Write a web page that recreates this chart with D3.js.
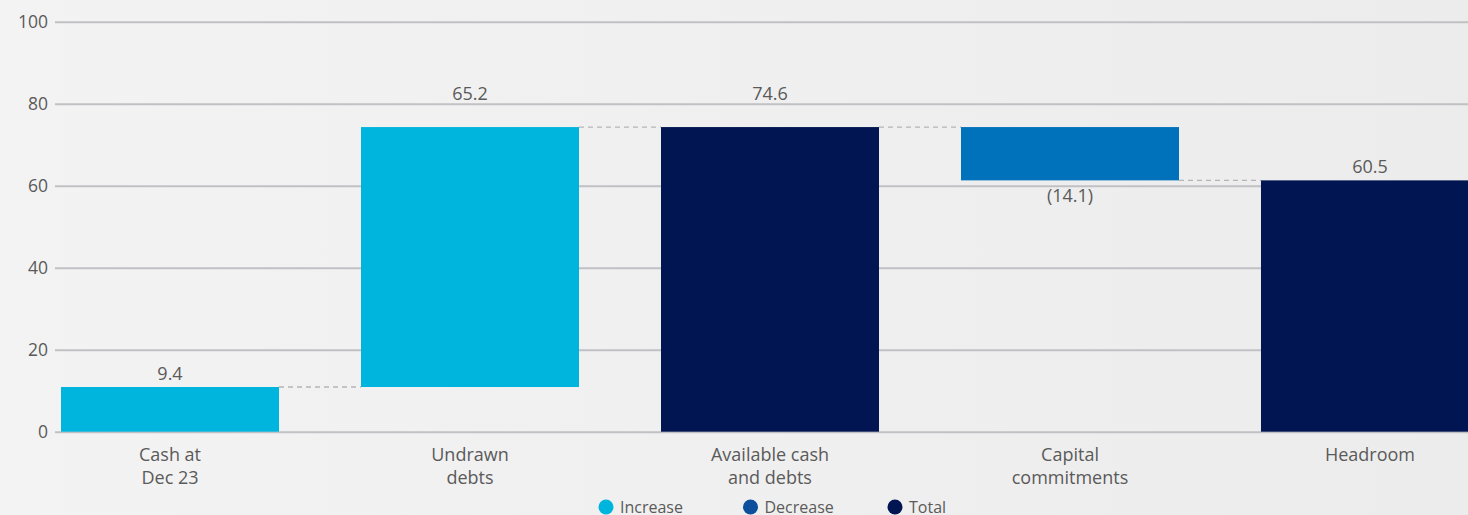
<!DOCTYPE html>
<html>
<head>
<meta charset="utf-8">
<script src="https://cdn.jsdelivr.net/npm/d3@7"></script>
<style>
  html, body { margin: 0; padding: 0; }
  body { width: 1468px; height: 515px; overflow: hidden; background: linear-gradient(to right, #f3f3f3, #ececec); }
  text { font-family: "Open Sans", "Noto Sans", sans-serif; fill: #5a5a5a; }
</style>
</head>
<body>
<div id="chart"></div>
<script>
// chart data
const categories = [['Cash at', 'Dec 23'], ['Undrawn', 'debts'], ['Available cash', 'and debts'], ['Capital', 'commitments'], ['Headroom']];
const barTypes = ['increase', 'increase', 'total', 'decrease', 'total'];
const barDeltas = [10.9, 63.4, 74.3, -13.0, 61.3];
const valueLabels = ['9.4', '65.2', '74.6', '(14.1)', '60.5'];
const yTicks = [0, 20, 40, 60, 80, 100];
const legendItems = ['Increase', 'Decrease', 'Total'];

const width = 1468;
const height = 515;
const colors = { increase: '#00b5dd', decrease: '#0071bb', total: '#001551' };
const legendColors = { Increase: '#00b5dd', Decrease: '#0c4f9c', Total: '#001551' };

// build waterfall extents
const dataset = [];
let running = 0;
categories.forEach((c, i) => {
    let start, end;
    if (barTypes[i] === 'total') {
        start = 0; end = barDeltas[i];
    } else {
        start = running; end = running + barDeltas[i];
    }
    running = end;
    dataset.push({ key: i, cat: c, type: barTypes[i], start: start, end: end, label: valueLabels[i] });
});

const svg = d3.select('#chart')
    .append('svg')
    .attr('width', width)
    .attr('height', height);

// scales
const xScale = d3.scaleBand()
    .domain(dataset.map((d) => d.key))
    .range([20, 1520])
    .paddingInner(0.2733)
    .paddingOuter(0.1367);

const yScale = d3.scaleLinear()
    .domain([0, 100])
    .range([431.7, 21.7]);

// gridlines
const yAxis = d3.axisLeft(yScale)
    .tickValues(yTicks)
    .tickSize(-(width - 55))
    .tickPadding(7);

const yG = svg.append('g')
    .attr('transform', 'translate(55, 0)')
    .call(yAxis);
yG.select('.domain').remove();
yG.selectAll('.tick line').attr('stroke', '#c1c1c5').attr('stroke-width', 2);
yG.selectAll('.tick text').style('font-size', '17.5px').style('font-family', '"Open Sans", sans-serif').attr('fill', '#5a5a5a');

// connectors
for (let i = 0; i < dataset.length - 1; i++) {
    const d = dataset[i];
    svg.append('line')
        .attr('x1', xScale(d.key) + xScale.bandwidth())
        .attr('x2', xScale(dataset[i + 1].key))
        .attr('y1', yScale(d.end))
        .attr('y2', yScale(d.end))
        .attr('stroke', '#b5b5b8')
        .attr('stroke-width', 1.3)
        .attr('stroke-dasharray', '5,4');
}

// bars
svg.selectAll('rect.bar')
    .data(dataset)
    .enter()
    .append('rect')
    .attr('class', 'bar')
    .attr('x', (d) => xScale(d.key))
    .attr('width', xScale.bandwidth())
    .attr('y', (d) => yScale(Math.max(d.start, d.end)))
    .attr('height', (d) => Math.abs(yScale(d.start) - yScale(d.end)))
    .style('fill', (d) => colors[d.type]);

// value labels: lift above a gridline if the bar top sits just under one
const labelY = (d) => {
    if (d.type === 'decrease') return yScale(d.end) + 22;
    const top = yScale(d.end);
    const above = yTicks.map(yScale).filter((g) => g < top && top - g < 30);
    return above.length ? d3.min(above) - 4 : top - 7;
};

svg.selectAll('text.value')
    .data(dataset)
    .enter()
    .append('text')
    .attr('class', 'value')
    .attr('x', (d) => xScale(d.key) + xScale.bandwidth() / 2)
    .attr('y', labelY)
    .attr('text-anchor', 'middle')
    .style('font-size', '18px')
    .text((d) => d.label);

// category labels
const catG = svg.selectAll('text.cat')
    .data(dataset)
    .enter()
    .append('text')
    .attr('class', 'cat')
    .attr('text-anchor', 'middle')
    .style('font-size', '18px');

catG.selectAll('tspan')
    .data((d) => d.cat.map((line, j) => ({ line: line, j: j, x: xScale(d.key) + xScale.bandwidth() / 2 })))
    .enter()
    .append('tspan')
    .attr('x', (t) => t.x)
    .attr('y', (t) => 461 + t.j * 23)
    .text((t) => t.line);

// legend
const legendX = d3.scalePoint()
    .domain(legendItems)
    .range([606, 895]);

const lg = svg.selectAll('g.legend')
    .data(legendItems)
    .enter()
    .append('g')
    .attr('class', 'legend')
    .attr('transform', (d) => `translate(${legendX(d)}, 507)`);

lg.append('circle')
    .attr('r', 7.5)
    .style('fill', (d) => legendColors[d]);

lg.append('text')
    .attr('x', 14)
    .attr('y', 6)
    .style('font-size', '16px')
    .text((d) => d);
</script>
</body>
</html>
